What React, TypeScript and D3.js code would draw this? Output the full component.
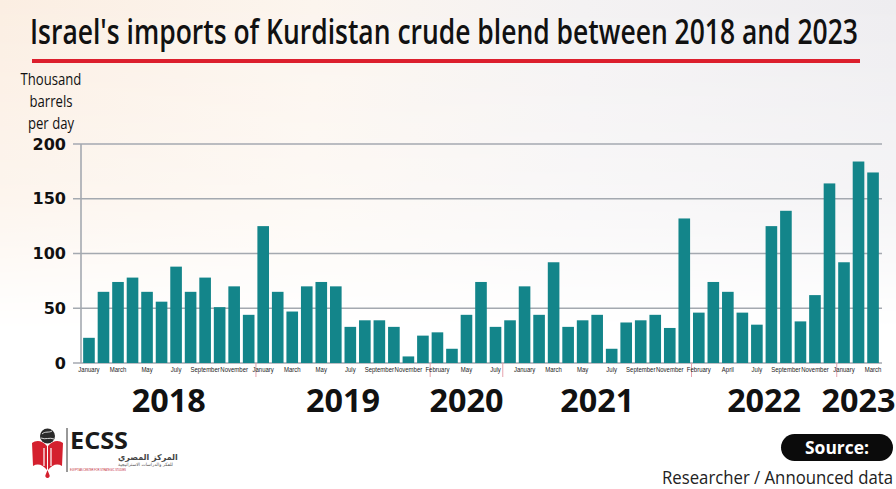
import React from 'react';
import * as d3 from 'd3';

const values = [23,65,74,78,65,56,88,65,78,51,70,44,125,65,47,70,74,70,33,39,39,33,6,25,28,13,44,74,33,39,70,44,92,33,39,44,13,37,39,44,32,132,46,74,65,46,35,125,139,38,62,164,92,184,174];
const monthLabels = ["January","March","May","July","September","November","January","March","May","July","September","November","February","May","July","January","March","May","July","September","November","February","April","July","September","November","January","March"];
const years = ["2018","2019","2020","2021","2022","2023"];
const yearStarts = [0,12,24,29,42,52];
const yTicks = [0,50,100,150,200];

const W = 896, H = 489;

export default function App() {
  const idx = values.map((_, i) => i);
  const x = d3.scaleBand<number>().domain(idx).range([81.7, 880.3]).paddingInner(0.2).paddingOuter(0.1);
  const y = d3.scaleLinear().domain([0, 200]).range([363, 144]);
  const bw = x.bandwidth();
  const step = x.step();
  const cx = (i: number) => (x(i) as number) + bw / 2;

  return (
    <svg width={W} height={H} style={{ position: 'absolute', left: 0, top: 0, background: '#fff' }}>
      <defs>
        <linearGradient id="bgH" x1="0" x2="1" y1="0" y2="0">
          <stop offset="0" stopColor="#fbeee2" />
          <stop offset="0.35" stopColor="#fcf5ee" />
          <stop offset="0.65" stopColor="#f4f2f3" />
          <stop offset="1" stopColor="#eeedf0" />
        </linearGradient>
        <linearGradient id="fadeV" x1="0" x2="0" y1="0" y2="1">
          <stop offset="0" stopColor="#fff" stopOpacity="1" />
          <stop offset="0.6" stopColor="#fff" stopOpacity="0.6" />
          <stop offset="1" stopColor="#fff" stopOpacity="0" />
        </linearGradient>
        <mask id="bgMask">
          <rect x={0} y={0} width={W} height={330} fill="url(#fadeV)" />
        </mask>
      </defs>
      <rect x={0} y={0} width={W} height={H} fill="#fff" />
      <rect x={0} y={0} width={W} height={330} fill="url(#bgH)" mask="url(#bgMask)" />

      {/* Title */}
      <text x={444} y={44} textAnchor="middle" fontFamily="'Open Sans', sans-serif" fontWeight={600}
        fontSize={35} textLength={828} lengthAdjust="spacingAndGlyphs" fill="#111">
        Israel's imports of Kurdistan crude blend between 2018 and 2023
      </text>
      <rect x={32} y={59} width={828} height={4} fill="#dc1f2d" />

      {/* Y axis title */}
      <g fontFamily="'Open Sans', sans-serif" fontSize={16} fill="#111" textAnchor="middle">
        {["Thousand", "barrels", "per day"].map((t, i) => (
          <text key={t} transform={`translate(51,${85 + i * 22}) scale(0.82,1)`}>{t}</text>
        ))}
      </g>

      {/* Gridlines */}
      {yTicks.map(t => (
        <line key={t} x1={73} x2={882} y1={y(t)} y2={y(t)} stroke="#a4a9b0" strokeWidth={1.6} />
      ))}
      <line x1={81} x2={81} y1={y(200)} y2={y(0)} stroke="#a4a9b0" strokeWidth={1.6} />

      {/* Y tick labels */}
      <g fontFamily="'DejaVu Sans', sans-serif" fontWeight="bold" fontSize={16} fill="#111" textAnchor="end">
        {yTicks.map(t => (
          <text key={t} x={66} y={y(t)} dy="0.35em">{t}</text>
        ))}
      </g>

      {/* Bars */}
      {values.map((v, i) => (
        <rect key={i} x={x(i)} y={y(v)} width={bw} height={y(0) - y(v)} fill="#13858a" />
      ))}

      {/* Year separators */}
      {yearStarts.slice(1).map(s => (
        <line key={s} x1={(x(s) as number) - step * 0.1} x2={(x(s) as number) - step * 0.1} y1={363} y2={377}
          stroke="#e6a3ad" strokeWidth={1} />
      ))}

      {/* Month labels */}
      <g fontFamily="'Liberation Sans', sans-serif" fontSize={7.5} fill="#222" textAnchor="middle">
        {monthLabels.map((m, i) => (
          <text key={i} transform={`translate(${cx(i * 2)},372) scale(0.8,1)`}>{m}</text>
        ))}
      </g>

      {/* Year labels */}
      <g fontFamily="'Open Sans', sans-serif" fontWeight={700} fontSize={33} fill="#111" textAnchor="middle">
        {years.map((yr, k) => {
          const s = yearStarts[k];
          const e = k < years.length - 1 ? yearStarts[k + 1] - 1 : values.length - 1;
          const c = (cx(s) + cx(e)) / 2;
          return <text key={yr} x={c} y={412} textLength={74} lengthAdjust="spacingAndGlyphs">{yr}</text>;
        })}
      </g>

      {/* ECSS logo */}
      <g>
        <path d="M47,446 C42,440 36,440 32,443 L33,466 C38,463 43,465 47,470 Z" fill="#d4202e" />
        <path d="M48,446 C53,440 59,440 63,443 L62,466 C57,463 52,465 48,470 Z" fill="#d4202e" />
        <path d="M44,448 L44,466 M51,448 L51,466" stroke="#fff" strokeWidth={1.2} />
        <circle cx={47.5} cy={436} r={7.5} fill="#2a2a2a" />
        <path d="M42,434 C45,431 49,433 52,431 M41,438 C45,440 50,437 54,439" stroke="#fff" strokeWidth={0.8} fill="none" />
        <path d="M47.5,470 L45.5,475 A2.2,2.2 0 1 0 49.5,475 Z" fill="#d4202e" />
        <line x1={67} x2={67} y1={428} y2={472} stroke="#333" strokeWidth={1} />
        <text x={70} y={449} fontFamily="'Open Sans', sans-serif" fontWeight={700} fontSize={24}
          textLength={58} lengthAdjust="spacingAndGlyphs" fill="#1a1a1a">ECSS</text>
        <text x={118} y={460} textAnchor="end" fontFamily="'DejaVu Sans', sans-serif" fontWeight="bold" fontSize={8}
          fill="#444" direction="rtl">المركز المصري</text>
        <text x={118} y={466} textAnchor="end" fontFamily="'DejaVu Sans', sans-serif" fontSize={4.5}
          fill="#555" direction="rtl">للفكر والدراسات الاستراتيجية</text>
        <text x={70} y={471} fontFamily="'Liberation Sans', sans-serif" fontSize={3} fill="#c0202e"
          textLength={56} lengthAdjust="spacingAndGlyphs">EGYPTIAN CENTER FOR STRATEGIC STUDIES</text>
      </g>

      {/* Source */}
      <rect x={781} y={434} width={112} height={27} rx={13.5} fill="#0b0b0b" />
      <text x={837} y={454} textAnchor="middle" fontFamily="'Open Sans', sans-serif" fontWeight={700}
        fontSize={18} fill="#fff" textLength={64} lengthAdjust="spacingAndGlyphs">Source:</text>
      <text x={893} y={484} textAnchor="end" fontFamily="'Open Sans', sans-serif" fontWeight={500}
        fontSize={18} fill="#222" textLength={231} lengthAdjust="spacingAndGlyphs">Researcher / Announced data</text>
    </svg>
  );
}
